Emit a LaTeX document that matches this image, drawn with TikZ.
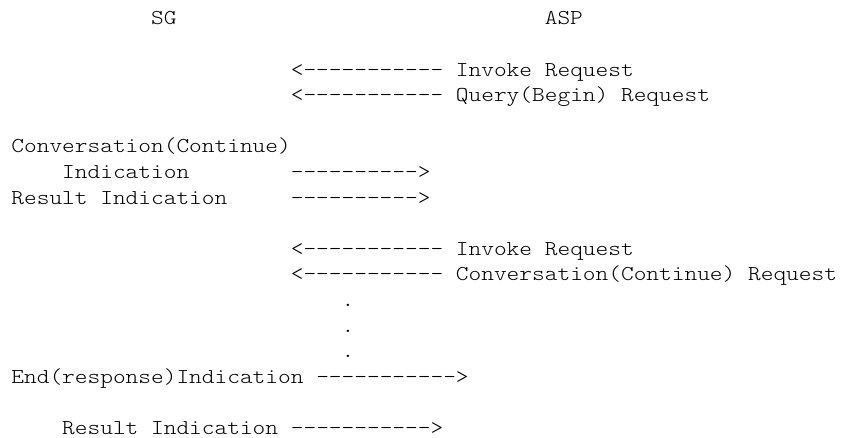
\documentclass[tikz,border=0pt]{standalone}
\usepackage{fontspec}
\setmonofont{lmmonolt10-regular.otf}[FakeStretch=1.1429]
\newcommand\asc[4]{\node[asciitxt] (#1) at ({11.4+12.7*#2},{-24.9-25.6*#3}) {#4};}
\begin{document}
\begin{tikzpicture}[x=1pt,y=1pt,
  asciitxt/.style={anchor=base west, inner sep=0pt, outer sep=0pt,
    font=\ttfamily\fontsize{21.17}{25.6}\selectfont, text=black}]
\useasboundingbox[fill=white] (0,0) rectangle (845,-438);
\asc{sg}{11}{0}{SG}
\asc{asp}{42}{0}{ASP}
\asc{inv1}{22}{2}{<----------- Invoke Request}
\asc{qry}{22}{3}{<----------- Query(Begin) Request}
\asc{conv}{0}{5}{Conversation(Continue)}
\asc{ind1}{4}{6}{Indication}
\asc{arr1}{22}{6}{---------->}
\asc{res1}{0}{7}{Result Indication}
\asc{arr2}{22}{7}{---------->}
\asc{inv2}{22}{9}{<----------- Invoke Request}
\asc{convreq}{22}{10}{<----------- Conversation(Continue) Request}
\asc{d1}{26}{11}{.}
\asc{d2}{26}{12}{.}
\asc{d3}{26}{13}{.}
\asc{endind}{0}{14}{End(response)Indication ----------->}
\asc{res2}{4}{16}{Result Indication ----------->}
\end{tikzpicture}
\end{document}
